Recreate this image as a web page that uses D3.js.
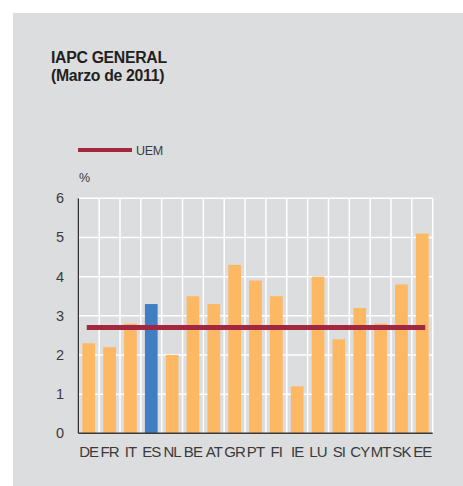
<!DOCTYPE html>
<html>
<head>
<meta charset="utf-8">
<script src="https://cdn.jsdelivr.net/npm/d3@7"></script>
<style>
  html, body { margin: 0; padding: 0; background: #fff; }
  svg { display: block; font-family: "Liberation Sans", Arial, sans-serif; }
</style>
</head>
<body>
<script>
// datos
const countries = ["DE", "FR", "IT", "ES", "NL", "BE", "AT", "GR", "PT", "FI", "IE", "LU", "SI", "CY", "MT", "SK", "EE"];
const values = [2.3, 2.2, 2.8, 3.3, 2.0, 3.5, 3.3, 4.3, 3.9, 3.5, 1.2, 4.0, 2.4, 3.2, 2.8, 3.8, 5.1];
const uem = 2.7;
const yTicks = [0, 1, 2, 3, 4, 5, 6];
const highlight = "ES";

const width = 463, height = 486;
const margin = { left: 78.3, right: 30.3, top: 198.3, bottom: 52.7 };

const svg = d3.select("body").append("svg")
  .attr("width", width)
  .attr("height", height);

// fondo gris
svg.append("rect")
  .attr("x", 13).attr("y", 13)
  .attr("width", width - 13).attr("height", height - 13)
  .attr("fill", "#dcdddf");

// titulo
const title = svg.append("text")
  .attr("x", 51).attr("y", 63)
  .attr("fill", "#231f20")
  .attr("font-size", 15.8)
  .attr("font-weight", "bold")
  .attr("letter-spacing", -0.3);
title.append("tspan").attr("x", 51).text("IAPC GENERAL");
title.append("tspan").attr("x", 51).attr("dy", 18).text("(Marzo de 2011)");

// leyenda
svg.append("line")
  .attr("x1", 78).attr("x2", 132)
  .attr("y1", 150).attr("y2", 150)
  .attr("stroke", "#a3283f")
  .attr("stroke-width", 4);
svg.append("text")
  .attr("x", 136).attr("y", 155)
  .attr("font-size", 12.5)
  .attr("fill", "#3a3a3a")
  .attr("letter-spacing", -0.3)
  .text("UEM");

// escalas
const x = d3.scaleBand()
  .domain(countries)
  .range([margin.left, width - margin.right])
  .paddingInner(0.39)
  .paddingOuter(0.195);
const step = x.step();
const x0 = margin.left;
const x1 = width - margin.right;

const y = d3.scaleLinear()
  .domain([0, 6])
  .range([height - margin.bottom, margin.top]);

// rejilla
const g = svg.append("g");
g.selectAll(".hgrid")
  .data(yTicks.slice(1))
  .enter()
  .append("line")
  .attr("class", "hgrid")
  .attr("x1", x0).attr("x2", x1)
  .attr("y1", (d) => y(d)).attr("y2", (d) => y(d))
  .attr("stroke", "#fff")
  .attr("stroke-width", 1.5);
g.selectAll(".vgrid")
  .data(d3.range(countries.length + 1))
  .enter()
  .append("line")
  .attr("class", "vgrid")
  .attr("x1", (i) => x0 + i * step).attr("x2", (i) => x0 + i * step)
  .attr("y1", y(0)).attr("y2", y(6))
  .attr("stroke", "#fff")
  .attr("stroke-width", 1.5);

// barras
g.selectAll(".bar")
  .data(countries)
  .enter()
  .append("rect")
  .attr("class", "bar")
  .attr("x", (d) => x(d))
  .attr("width", x.bandwidth())
  .attr("y", (d, i) => y(values[i]))
  .attr("height", (d, i) => y(0) - y(values[i]))
  .attr("fill", (d) => (d === highlight ? "#3f7ec1" : "#fdb863"));

// linea UEM
g.append("line")
  .attr("x1", x(countries[0]) + 4.4)
  .attr("x2", x(countries[countries.length - 1]) + x.bandwidth() - 3.4)
  .attr("y1", y(uem)).attr("y2", y(uem))
  .attr("stroke", "#a3283f")
  .attr("stroke-width", 5);

// ejes
g.append("line")
  .attr("x1", x0).attr("x2", x0)
  .attr("y1", y(0)).attr("y2", y(6))
  .attr("stroke", "#231f20")
  .attr("stroke-width", 1.2);
g.append("line")
  .attr("x1", x0).attr("x2", x1)
  .attr("y1", y(0)).attr("y2", y(0))
  .attr("stroke", "#3a3a3a")
  .attr("stroke-width", 1.5);

// etiquetas eje y
svg.selectAll(".ylab")
  .data(yTicks)
  .enter()
  .append("text")
  .attr("class", "ylab")
  .attr("x", 64)
  .attr("y", (d) => y(d) + 5)
  .attr("text-anchor", "end")
  .attr("font-size", 14.5)
  .attr("fill", "#3a3a3a")
  .text((d) => d);

svg.append("text")
  .attr("x", 79).attr("y", 182)
  .attr("font-size", 12.5)
  .attr("fill", "#3a3a3a")
  .text("%");

// etiquetas eje x
svg.selectAll(".xlab")
  .data(countries)
  .enter()
  .append("text")
  .attr("class", "xlab")
  .attr("x", (d) => x(d) + x.bandwidth() / 2)
  .attr("y", 457)
  .attr("text-anchor", "middle")
  .attr("font-size", 15)
  .attr("letter-spacing", -0.9)
  .attr("fill", "#3a3a3a")
  .text((d) => d);
</script>
</body>
</html>
